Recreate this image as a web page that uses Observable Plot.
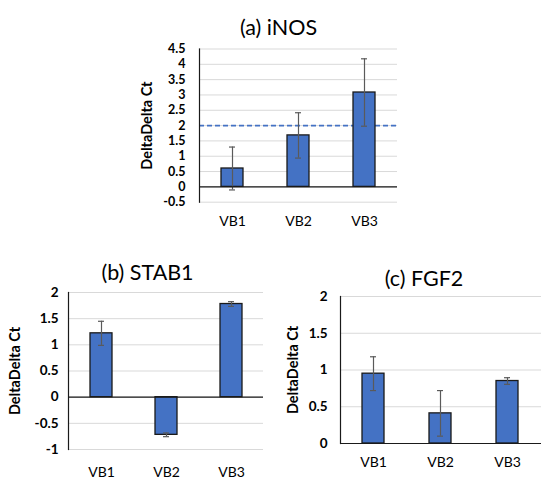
<!DOCTYPE html>
<html><head><meta charset="utf-8">
<script src="https://cdn.jsdelivr.net/npm/d3@7"></script>
<script src="https://cdn.jsdelivr.net/npm/@observablehq/plot@0.6"></script>
<style>
body{margin:0;background:#fff;width:541px;height:500px;position:relative;overflow:hidden;font-family:Lato,sans-serif}
.panel{position:absolute}
</style></head><body>
<div id="pa" class="panel" style="left:130px;top:0px"></div>
<div id="pb" class="panel" style="left:0px;top:250px"></div>
<div id="pc" class="panel" style="left:280px;top:250px"></div>
<script>
const categories = ["VB1", "VB2", "VB3"];

const inosTitle = "(a) iNOS";
const inosValues = [0.6, 1.68, 3.08];
const inosErrors = [0.7, 0.74, 1.1];
const inosTicks = [-0.5, 0, 0.5, 1, 1.5, 2, 2.5, 3, 3.5, 4, 4.5];
const inosThreshold = 2;

const stabTitle = "(b) STAB1";
const stabValues = [1.22, -0.72, 1.78];
const stabErrors = [0.23, 0.035, 0.045];
const stabTicks = [-1, -0.5, 0, 0.5, 1, 1.5, 2];

const fgfTitle = "(c) FGF2";
const fgfValues = [0.95, 0.41, 0.85];
const fgfErrors = [0.23, 0.31, 0.045];
const fgfTicks = [0, 0.5, 1, 1.5, 2];

const yLabel = "DeltaDelta Ct";

function panel(o) {
  const rows = categories.map((c, i) => ({
    cat: c, v: o.values[i], lo: o.values[i] - o.errors[i], hi: o.values[i] + o.errors[i]
  }));
  const marks = [
    Plot.ruleY(o.ticks, {stroke: "#d9d9d9", strokeWidth: 1}),
  ];
  if (o.threshold != null) {
    marks.push(Plot.ruleY([o.threshold], {stroke: "#4472C4", strokeDasharray: "5,3", strokeWidth: 1.6}));
  }
  marks.push(
    Plot.barY(rows, {x: "cat", y: "v", fill: "#4472C4", stroke: "#1a1a1a", strokeWidth: 1.3}),
    Plot.ruleX(rows, {x: "cat", y1: "lo", y2: "hi", stroke: "#5a5a5a", strokeWidth: 1.2}),
    Plot.tickY(rows, {x: "cat", y: "lo", insetLeft: 8, insetRight: 8, stroke: "#5a5a5a", strokeWidth: 1.2}),
    Plot.tickY(rows, {x: "cat", y: "hi", insetLeft: 8, insetRight: 8, stroke: "#5a5a5a", strokeWidth: 1.2}),
    Plot.ruleY([0], {stroke: "#1a1a1a", strokeWidth: 1.2}),
    Plot.frame({anchor: "left", stroke: "#1a1a1a", strokeWidth: 1.2}),
    Plot.axisY({ticks: o.ticks, tickSize: 0, tickPadding: o.tickPadding, tickFormat: d => String(d), fontWeight: "bold", fontSize: o.tickFont, label: null}),
    Plot.axisX({tickSize: 0, tickPadding: o.xPad, fontSize: 14, label: null}),
    Plot.text([o.title], {frameAnchor: "top", lineAnchor: "middle", dx: o.titleDx, dy: o.titleDy, fontSize: 21.5, fill: "#000"}),
    Plot.text([yLabel], {frameAnchor: "left", textAnchor: "middle", lineAnchor: "middle", dx: o.labelDx, rotate: -90, fontWeight: "bold", fontSize: 14.5, fill: "#000"})
  );
  return Plot.plot({
    width: o.width, height: o.height,
    marginLeft: o.ml, marginRight: o.mr, marginTop: o.mt, marginBottom: o.mb,
    style: {fontFamily: "Lato, sans-serif", fontSize: "14px", color: "#000", background: "white", overflow: "visible"},
    x: {domain: categories, paddingInner: 0.667, paddingOuter: 0.333},
    y: {domain: [o.ticks[0], o.ticks[o.ticks.length - 1]]},
    marks
  });
}

document.getElementById("pa").append(panel({
  values: inosValues, errors: inosErrors, ticks: inosTicks, threshold: inosThreshold, title: inosTitle,
  width: 280, height: 235, ml: 69, mr: 13, mt: 48.5, mb: 33.3, tickFont: 12.5,
  titleDx: -20, titleDy: -20.5, labelDx: -52, tickPadding: 14, xPad: 14
}));
document.getElementById("pb").append(panel({
  values: stabValues, errors: stabErrors, ticks: stabTicks, title: stabTitle,
  width: 280, height: 240, ml: 68, mr: 17, mt: 42, mb: 41, tickFont: 13.5,
  titleDx: -18.5, titleDy: -19, labelDx: -53, tickPadding: 10, xPad: 18
}));
document.getElementById("pc").append(panel({
  values: fgfValues, errors: fgfErrors, ticks: fgfTicks, title: fgfTitle,
  width: 261, height: 240, ml: 60, mr: 0, mt: 46, mb: 47, tickFont: 13.5,
  titleDx: -17, titleDy: -17, labelDx: -47, tickPadding: 13, xPad: 14
}));
</script>
</body></html>
